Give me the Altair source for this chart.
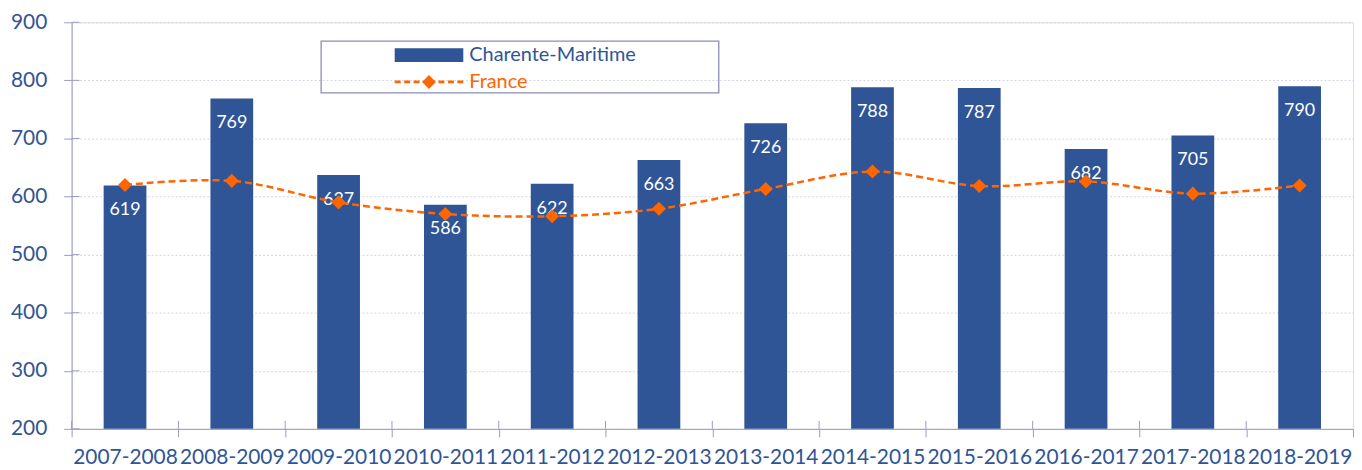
import altair as alt
import pandas as pd

seasons = ["2007-2008", "2008-2009", "2009-2010", "2010-2011", "2011-2012", "2012-2013",
           "2013-2014", "2014-2015", "2015-2016", "2016-2017", "2017-2018", "2018-2019"]
charente = [619, 769, 637, 586, 622, 663, 726, 788, 787, 682, 705, 790]
france = [620, 627, 590, 570, 566, 579, 613, 643, 618, 626, 605, 619]
y_ticks = [200, 300, 400, 500, 600, 700, 800, 900]
series_names = ["Charente-Maritime", "France"]
series_colors = ["#2F5597", "#FF6600"]

BLUE = "#2F5597"
ORANGE = "#FF6600"
AXIS = "#9A9AC6"
FONT = "Lato"
W, H = 1289, 409

df_bar = pd.DataFrame({"season": seasons, "value": charente, "series": series_names[0]})
df_line = pd.DataFrame({"season": seasons, "value": france, "series": series_names[1]})
df_ticks = pd.DataFrame({"tick": y_ticks})
df_seasons = pd.DataFrame({"season": seasons})
df_box = pd.DataFrame({"box": [1]})

cm_path = "M8.286,-1H18.143V1H8.286Z"
fr_path = ("M8.286,-0.2H9.143V0.2H8.286Z M9.643,-0.2H10.5V0.2H9.643Z M11,-0.2H11.857V0.2H11Z "
           "M12.214,0L13.214,-1L14.214,0L13.214,1Z M14.571,-0.2H15.429V0.2H14.571Z "
           "M15.929,-0.2H16.786V0.2H15.929Z M17.286,-0.2H18.143V0.2H17.286Z")

x_scale = alt.Scale(domain=seasons, paddingInner=0, paddingOuter=0)
y_scale = alt.Scale(domain=[200, 900], nice=False, zero=False)
color_scale = alt.Scale(domain=series_names, range=series_colors)

legend = alt.Legend(
    title=None, orient="none", legendX=251, legendY=17, direction="vertical",
    padding=6, symbolSize=196, labelOffset=123,
    labelFont=FONT, labelFontSize=20, labelLimit=500, rowPadding=7,
    symbolType={"expr": f"datum.value === 'France' ? '{fr_path}' : '{cm_path}'"},
    symbolFillColor={"expr": f"datum.value === 'France' ? '{ORANGE}' : '{BLUE}'"},
    symbolStrokeWidth=0,
    symbolOpacity=1,
    labelColor={"expr": f"datum.value === 'France' ? '{ORANGE}' : '{BLUE}'"},
)

x_enc = alt.X("season:N", scale=x_scale, sort=seasons,
              axis=alt.Axis(title=None, labelAngle=0, labelFont=FONT, labelFontSize=21,
                            labelColor=BLUE, tickBand="extent", tickSize=8, tickColor=AXIS,
                            domainColor=AXIS, labelPadding=10, grid=False))
y_enc = alt.Y("value:Q", scale=y_scale,
              axis=alt.Axis(title=None, values=y_ticks, labelFont=FONT, labelFontSize=21,
                            labelColor=BLUE, tickSize=8, tickColor=AXIS, domainColor=AXIS,
                            labelPadding=17, grid=True, gridColor="#D4D4E8", gridDash=[2, 2],
                            gridWidth=1))

xs = alt.X("season:N", scale=x_scale, sort=seasons)
ys = alt.Y("value:Q", scale=y_scale)

bars = alt.Chart(df_bar).mark_bar(color=BLUE, size=43).encode(
    x=x_enc, y=y_enc, y2=alt.datum(200),
    color=alt.Color("series:N", scale=color_scale, legend=legend),
)
bar_text = alt.Chart(df_bar).mark_text(
    baseline="middle", dy=25, color="white", font=FONT, fontSize=18
).encode(x=xs, y=ys, text=alt.Text("value:Q"))
line = alt.Chart(df_line).mark_line(
    strokeDash=[7, 4], strokeWidth=2.5, interpolate="catmull-rom"
).encode(x=xs, y=ys, color=alt.Color("series:N", scale=color_scale, legend=legend))
points = alt.Chart(df_line).mark_point(
    shape="diamond", filled=True, size=200, opacity=1
).encode(x=xs, y=ys, color=alt.Color("series:N", scale=color_scale, legend=legend))

y_in_ticks = alt.Chart(df_ticks).mark_rule(color=AXIS, strokeWidth=1).encode(
    y=alt.Y("tick:Q", scale=y_scale), x=alt.value(0), x2=alt.value(8))
x_in_ticks = alt.Chart(df_seasons).mark_rule(color=AXIS, strokeWidth=1).encode(
    x=alt.X("season:N", scale=x_scale, sort=seasons, bandPosition=0),
    y=alt.value(H - 8), y2=alt.value(H))

legend_box = alt.Chart(df_box).mark_rect(
    fill="white", fillOpacity=0, stroke="#8C8CB8", strokeWidth=1.3
).encode(x=alt.value(251), x2=alt.value(651), y=alt.value(19), y2=alt.value(71))

chart = alt.layer(bars, bar_text, line, points, y_in_ticks, x_in_ticks, legend_box).properties(
    width=W, height=H,
    autosize=alt.AutoSizeParams(type="none"),
    padding={"left": 64, "top": 13, "right": 1, "bottom": 40},
).configure_view(stroke=None).configure(background="white")

chart.save("out.html", embed_options={"renderer": "svg", "actions": False})
